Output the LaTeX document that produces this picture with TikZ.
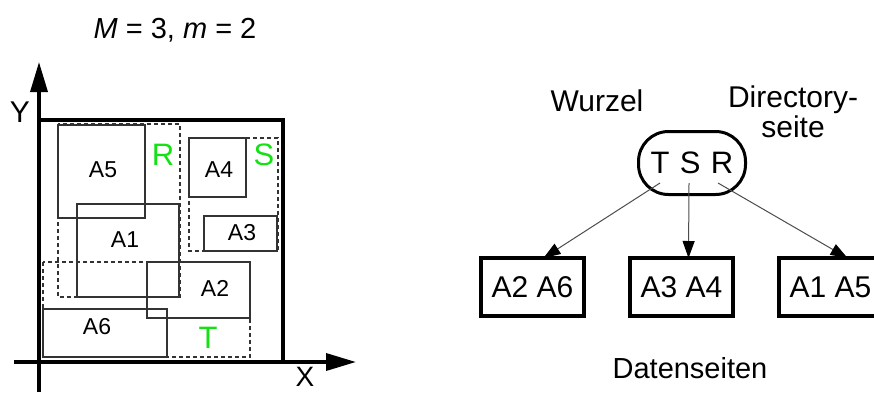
\documentclass[tikz,border=0pt]{standalone}
\usepackage{fontspec}
\setmainfont{Liberation Sans}
\usetikzlibrary{arrows.meta}
\definecolor{mbrgreen}{RGB}{20,225,20}
\newcommand{\fs}[1]{\fontsize{#1}{#1}\selectfont}
\begin{document}
\begin{tikzpicture}[x=1pt, y=-1pt,
    axis/.style={line width=3.5pt, -{Triangle[length=30pt, width=17pt]}},
    rect/.style={draw=black!80, line width=1.1pt},
    mbr/.style={draw=black!80, line width=1.1pt, dash pattern=on 4pt off 3pt},
    lbl/.style={font=\fs{23}},
    mbrlbl/.style={font=\fs{31}, text=mbrgreen},
    leaf/.style={draw, line width=4pt, minimum width=103pt, minimum height=58pt, font=\fs{30}},
    edge/.style={draw=black!70, line width=1pt, -{Triangle[length=17pt, width=12pt, color=black]}}]
    \useasboundingbox (0,0) rectangle (874,392);

    % Parameter
    \node[font=\fs{29}] (param) at (175,30) {\textit{M} = 3, \textit{m} = 2};

    % Datenraum
    \draw[line width=4pt] (39,120) -- (283,120) -- (283,362);
    \coordinate (yfrom) at (39,392);
    \coordinate (yto) at (39,62);
    \coordinate (xfrom) at (14,362);
    \coordinate (xto) at (356,362);
    \draw[axis] (yfrom) -- (yto);
    \draw[axis] (xfrom) -- (xto);
    \node[font=\fs{30}] (ylbl) at (20,112) {Y};
    \node[font=\fs{28}, inner sep=1pt] (xlbl) at (305,377) {X};

    % Datenrechtecke
    \draw[rect] (58,125) rectangle (145,218);
    \draw[rect] (77,204) rectangle (179,297);
    \draw[rect] (147,262) rectangle (250,318);
    \draw[rect] (204,216) rectangle (277,251);
    \draw[rect] (189,138) rectangle (246,197);
    \draw[rect] (43,309) rectangle (167,357);
    \node[lbl] (a5) at (103,170) {A5};
    \node[lbl] (a1) at (125,240) {A1};
    \node[lbl] (a2) at (215,288) {A2};
    \node[lbl] (a3) at (242,233) {A3};
    \node[lbl] (a4) at (219,170) {A4};
    \node[lbl] (a6) at (97,327) {A6};

    % Directory-Rechtecke
    \draw[mbr] (58,124) rectangle (180,297);
    \draw[mbr] (189,138) rectangle (278,251);
    \draw[mbr] (43,262) rectangle (250,357);
    \node[mbrlbl] (r) at (163,155) {R};
    \node[mbrlbl] (s) at (264,155) {S};
    \node[mbrlbl] (t) at (208,338) {T};

    % Wurzel
    \node[draw, line width=3pt, rounded corners=30pt, minimum width=107pt,
          minimum height=63pt, font=\fs{31}] (root) at (692,163) {T\,\,S\,\,R};
    \node[font=\fs{30}] (wurzel) at (597,101) {Wurzel};
    \node[font=\fs{30}, align=center] (dir) at (793,112) {Directory-\\seite};

    % Datenseiten
    \node[leaf] (l1) at (532.5,287) {A2 A6};
    \node[leaf] (l2) at (681.5,287) {A3 A4};
    \node[leaf] (l3) at (830.5,287) {A1 A5};
    \node[font=\fs{29}] (daten) at (690,368) {Datenseiten};

    % Verweise
    \coordinate (pt) at (660,183);
    \coordinate (ps) at (689,183);
    \coordinate (pr) at (718,183);
    \draw[edge] (pt) -- ([xshift=11pt, yshift=-2pt]l1.north);
    \draw[edge] (ps) -- ([xshift=7pt, yshift=-2pt]l2.north);
    \draw[edge] (pr) -- ([xshift=17pt, yshift=-2pt]l3.north);
\end{tikzpicture}
\end{document}
